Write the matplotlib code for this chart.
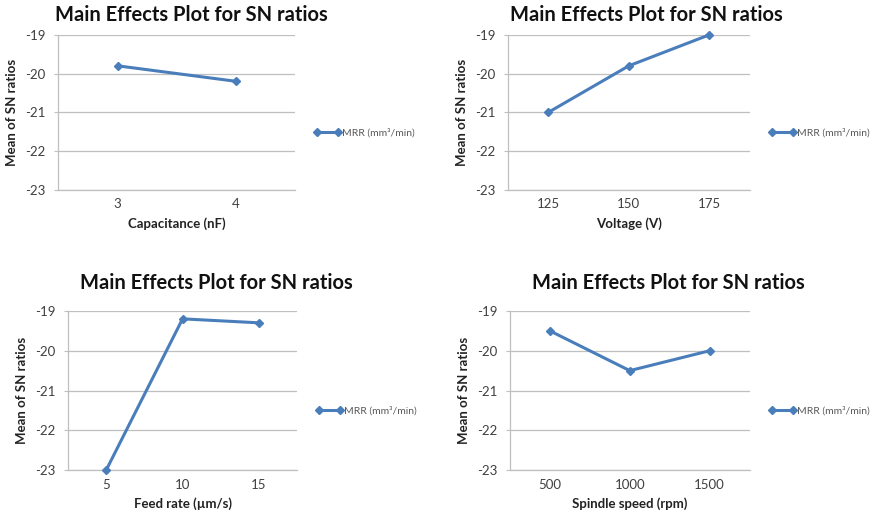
import matplotlib
matplotlib.use("Agg")
import matplotlib.pyplot as plt

plt.rcParams['font.family'] = ['Lato', 'DejaVu Sans']

# data
capacitance = ['3', '4']
sn_capacitance = [-19.8, -20.2]

voltage = ['125', '150', '175']
sn_voltage = [-21.0, -19.8, -19.0]

feed_rate = ['5', '10', '15']
sn_feed = [-23.0, -19.2, -19.3]

spindle = ['500', '1000', '1500']
sn_spindle = [-19.5, -20.5, -20.0]

yticks = [-19, -20, -21, -22, -23]
series_name = 'MRR (mm³/min)'
title = 'Main Effects Plot for SN ratios'

blue = '#4A7EBB'
grid = '#BFBFBF'
txt = '#404040'

fig = plt.figure(figsize=(8.82, 5.19), dpi=100)

panels = [
    # (axes rect, categories, values, xlabel, title xy)
    ([0.066, 0.634, 0.269, 0.299], capacitance, sn_capacitance, 'Capacitance (nF)', (191, 15)),
    ([0.576, 0.634, 0.274, 0.299], voltage, sn_voltage, 'Voltage (V)', (646, 15)),
    ([0.077, 0.094, 0.260, 0.307], feed_rate, sn_feed, 'Feed rate (µm/s)', (216, 283)),
    ([0.578, 0.094, 0.272, 0.307], spindle, sn_spindle, 'Spindle speed (rpm)', (668, 283)),
]

for rect, cats, vals, xlab, (tx, ty) in panels:
    ax = fig.add_axes(rect)
    x = list(range(len(cats)))
    ax.plot(x, vals, color=blue, lw=2.2, marker='D', ms=4.5,
            label=series_name, clip_on=False, zorder=3)
    ax.set_xlim(-0.5, len(cats) - 0.5)
    ax.set_ylim(-23, -19)
    ax.set_xticks(x)
    ax.set_xticklabels(cats)
    ax.set_yticks(yticks)
    ax.set_yticklabels([str(v) for v in yticks])
    ax.tick_params(axis='both', labelsize=9.5, colors=txt, length=0, pad=6)
    ax.tick_params(axis='y', length=3, color=grid)
    ax.yaxis.grid(True, color=grid, lw=0.9)
    ax.set_axisbelow(True)
    for s in ['top', 'right']:
        ax.spines[s].set_visible(False)
    for s in ['left', 'bottom']:
        ax.spines[s].set_color(grid)
        ax.spines[s].set_linewidth(0.9)
    ax.set_xlabel(xlab, fontsize=9.5, fontweight='bold', color='#222222', labelpad=5)
    ax.set_ylabel('Mean of SN ratios', fontsize=9.5, fontweight='bold', color='#222222', labelpad=5)
    ax.legend(loc='center left', bbox_to_anchor=(1.04, 0.37), frameon=False,
              fontsize=7.5, numpoints=2, handlelength=2.6, handletextpad=0.1,
              labelcolor='#595959')
    fig.text(tx / 882, 1 - ty / 519, title, ha='center', va='center',
             fontsize=14.5, fontweight='bold', color='#111111')

fig.savefig('out.png', dpi=100)
